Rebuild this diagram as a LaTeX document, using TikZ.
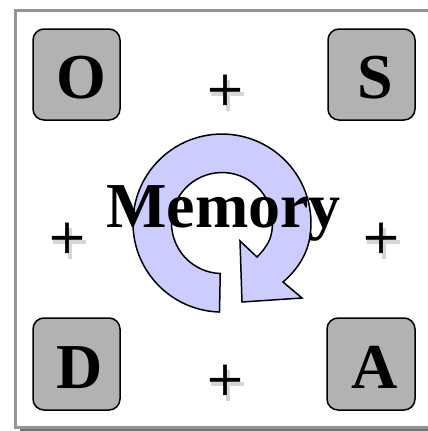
\documentclass[tikz,border=0pt]{standalone}
\usepackage{fontspec}
\setmainfont{Liberation Serif}
\newfontfamily\plusfont[FakeBold=1]{Liberation Serif}
\newcommand{\plusshade}[1]{%
  \fill[softshade,shift={#1}] (-14,-1) rectangle (19,3);
  \fill[softshade,shift={#1}] (1,-13) rectangle (5,18);}
\tikzset{
  x=1pt,y=-1pt,
  frameline/.style={draw=black!42,line width=3pt,miter limit=10},
  frameshade/.style={fill=black!55,draw=none},
  letterbox/.style={draw=black,line width=1.5pt,fill=black!30,rounded corners=11pt},
  big/.style={inner sep=0pt,anchor=base,font=\fontsize{64}{64}\selectfont\bfseries},
  plus/.style={inner sep=0pt,font=\fontsize{64}{64}\plusfont},
  softshade/.style={fill=black!16,draw=none},
  loop/.style={draw=black,line width=1.5pt,fill=blue!20!white,line join=miter},
}
\begin{document}
\begin{tikzpicture}
\useasboundingbox (0,0) rectangle (428,431);
\fill[frameshade] (20,428) rectangle (428,431);
\draw[frameline] (428,10.5) -- (15.5,10.5) -- (15.5,427.5) -- (428,427.5);
\draw[letterbox] (33,29) rectangle (120,120);
\draw[letterbox] (328,29) rectangle (415,120);
\draw[letterbox] (33,318) rectangle (120,410);
\draw[letterbox] (327,318) rectangle (415,410);
\node[big] (o) at (81,98) {O};
\node[big] (s) at (375,98) {S};
\node[big] (d) at (80,388) {D};
\node[big] (a) at (375,388) {A};
\plusshade{(225,93)}
\plusshade{(67,241)}
\plusshade{(381,241)}
\plusshade{(225,383)}
\node[plus] (p1) at (225,93) {+};
\node[plus] (p2) at (67,241) {+};
\node[plus] (p3) at (381,241) {+};
\node[plus] (p4) at (225,383) {+};
\draw[loop] (219.5,312)
  arc[start angle=91.6,end angle=370,radius=89]
  .. controls (306.5,256) and (296,271) .. (283,282)
  -- (302,298) -- (242,302) -- (240,241) -- (257,257)
  .. controls (263,251) and (268.7,243.8) .. (270.8,236.1)
  arc[start angle=375,end angle=92,radius=50.5]
  -- cycle;
\node[big] (m) at (223.5,227) {Memory};
\end{tikzpicture}
\end{document}
